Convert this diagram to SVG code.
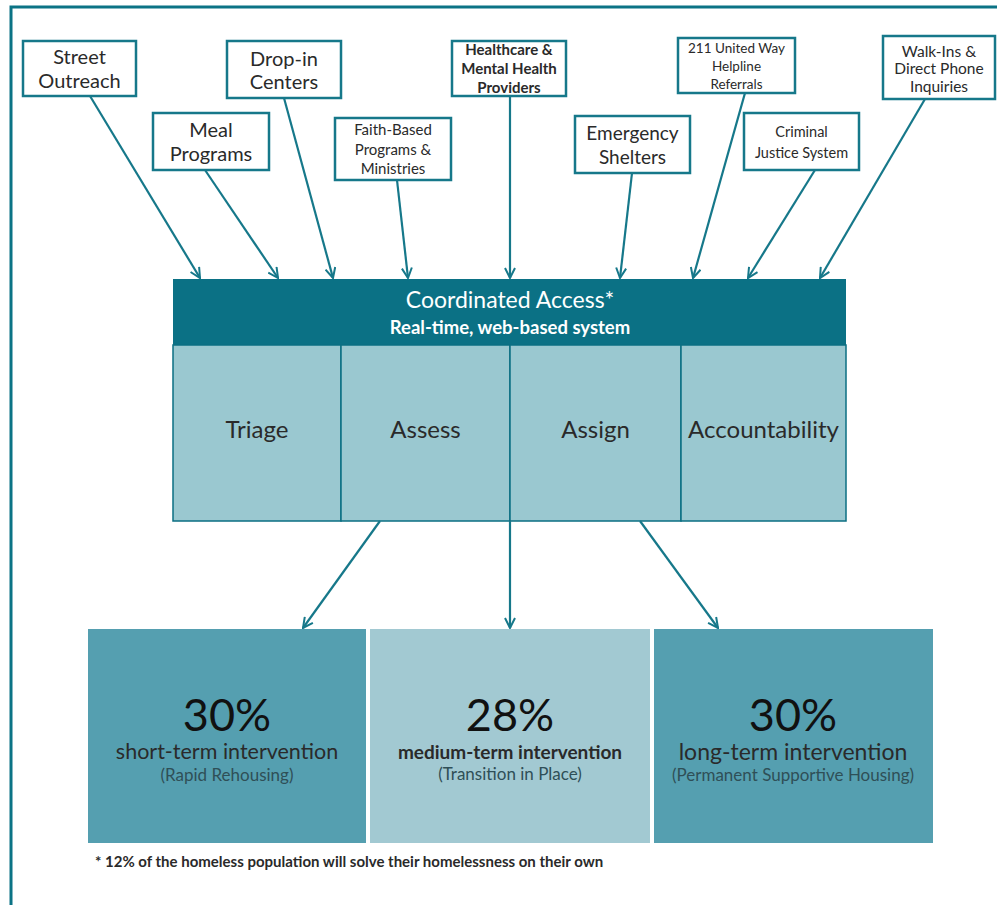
<svg xmlns="http://www.w3.org/2000/svg" width="997" height="905" viewBox="0 0 997 905">
<defs>
<marker id="ah" viewBox="0 0 12 12" refX="11" refY="6" markerWidth="12" markerHeight="12" markerUnits="userSpaceOnUse" orient="auto">
<path d="M1,1 L11,6 L1,11" fill="none" stroke="#16788a" stroke-width="2"/>
</marker>
<style>
.src rect{fill:#fff;stroke:#16788a;stroke-width:2.5}
text{font-family:Lato,"Open Sans","Liberation Sans",sans-serif;text-anchor:middle;fill:#2a2a2a}
.conn line{stroke:#16788a;stroke-width:2.2;marker-end:url(#ah)}
.cell{fill:#9ac8d0;stroke:#0b6f83;stroke-width:1.5}
.lab{font-size:24px}
.pct{font-size:45px;fill:#111}
.sub{font-size:17px;fill:#2f4f57}
</style>
</defs>
<rect width="997" height="905" fill="#fff"/>
<path d="M11,905 V7 H997" fill="none" stroke="#0b7385" stroke-width="3"/>

<g id="street-outreach" class="src"><rect x="23" y="41" width="113" height="55"/><text x="79.5" y="64" font-size="20">Street</text><text x="79.5" y="88" font-size="20">Outreach</text></g>
<g id="meal-programs" class="src"><rect x="153" y="113" width="116" height="57"/><text x="211" y="137" font-size="20">Meal</text><text x="211" y="161" font-size="20">Programs</text></g>
<g id="drop-in" class="src"><rect x="227" y="41" width="114" height="57"/><text x="284" y="66" font-size="20">Drop-in</text><text x="284" y="89" font-size="20">Centers</text></g>
<g id="faith" class="src"><rect x="335" y="118" width="116" height="62"/><text x="393" y="135" font-size="15">Faith-Based</text><text x="393" y="155" font-size="15">Programs &amp;</text><text x="393" y="174" font-size="15">Ministries</text></g>
<g id="healthcare" class="src"><rect x="452" y="41" width="114" height="55"/><text x="509" y="55" font-size="15" font-weight="bold">Healthcare &amp;</text><text x="509" y="74" font-size="15" font-weight="bold">Mental Health</text><text x="509" y="93" font-size="15" font-weight="bold">Providers</text></g>
<g id="emergency" class="src"><rect x="575" y="116" width="115" height="57"/><text x="632.5" y="140" font-size="19">Emergency</text><text x="632.5" y="164" font-size="19">Shelters</text></g>
<g id="united-way" class="src"><rect x="678" y="38" width="117" height="55"/><text x="736.5" y="53" font-size="13.5">211 United Way</text><text x="736.5" y="71" font-size="13.5">Helpline</text><text x="736.5" y="89" font-size="13.5">Referrals</text></g>
<g id="criminal" class="src"><rect x="744" y="113" width="115" height="57"/><text x="801.5" y="137" font-size="14.5">Criminal</text><text x="801.5" y="158" font-size="14.5">Justice System</text></g>
<g id="walk-ins" class="src"><rect x="883" y="36" width="112" height="63"/><text x="939" y="57" font-size="15.5">Walk-Ins &amp;</text><text x="939" y="74" font-size="15.5">Direct Phone</text><text x="939" y="92" font-size="15.5">Inquiries</text></g>

<g id="coordinated-access">
<rect x="173" y="279" width="673" height="66" fill="#0b7185"/>
<text x="510" y="308" font-size="23" style="fill:#fff">Coordinated Access*</text>
<text x="510" y="334" font-size="18.5" font-weight="bold" style="fill:#fff">Real-time, web-based system</text>
<rect class="cell" x="173" y="345" width="168" height="176"/>
<rect class="cell" x="341" y="345" width="169" height="176"/>
<rect class="cell" x="510" y="345" width="171" height="176"/>
<rect class="cell" x="681" y="345" width="165" height="176"/>
<text class="lab" x="257" y="438">Triage</text>
<text class="lab" x="425.5" y="438">Assess</text>
<text class="lab" x="595.5" y="438">Assign</text>
<text class="lab" x="763.5" y="438">Accountability</text>
</g>

<g id="short-term">
<rect x="88" y="629" width="278" height="214" fill="#559fb0"/>
<text class="pct" x="227" y="731">30%</text>
<text x="227" y="759" font-size="21.5">short-term intervention</text>
<text class="sub" x="227" y="781">(Rapid Rehousing)</text>
</g>
<g id="medium-term">
<rect x="370" y="629" width="280" height="214" fill="#a2c9d2"/>
<text class="pct" x="510" y="731">28%</text>
<text x="510" y="759" font-size="19" font-weight="bold">medium-term intervention</text>
<text class="sub" x="510" y="780">(Transition in Place)</text>
</g>
<g id="long-term">
<rect x="654" y="629" width="279" height="214" fill="#559fb0"/>
<text class="pct" x="793" y="731">30%</text>
<text x="793" y="760" font-size="23">long-term intervention</text>
<text class="sub" x="793" y="781">(Permanent Supportive Housing)</text>
</g>

<g id="footnote"><text x="95" y="867" font-size="15" font-weight="bold" style="text-anchor:start">* 12% of the homeless population will solve their homelessness on their own</text></g>

<g id="connectors" class="conn">
<line x1="90" y1="96" x2="200" y2="278"/>
<line x1="205" y1="170" x2="278" y2="278"/>
<line x1="284" y1="98" x2="333" y2="278"/>
<line x1="397" y1="180" x2="408" y2="278"/>
<line x1="510" y1="96" x2="510" y2="278"/>
<line x1="632" y1="173" x2="620" y2="278"/>
<line x1="745" y1="93" x2="693" y2="278"/>
<line x1="815" y1="170" x2="748" y2="278"/>
<line x1="925" y1="99" x2="820" y2="278"/>
<line x1="380" y1="521" x2="303" y2="628"/>
<line x1="510" y1="521" x2="510" y2="628"/>
<line x1="640" y1="521" x2="718" y2="628"/>
</g>
</svg>
